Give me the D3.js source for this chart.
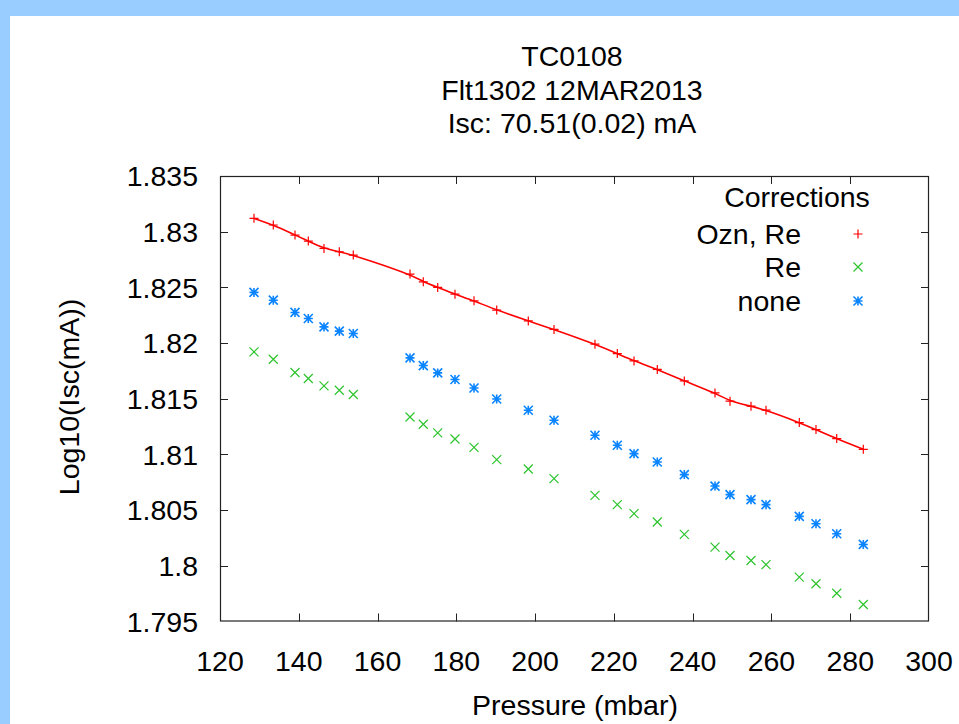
<!DOCTYPE html>
<html><head><meta charset="utf-8">
<script src="https://cdn.jsdelivr.net/npm/d3@7"></script>
<style>
html,body{margin:0;padding:0;background:#fff;}
svg{display:block;}
text{font-family:"Liberation Sans",Arial,sans-serif;fill:#000;}
</style></head>
<body>
<script>
const titleLines = ["TC0108", "Flt1302 12MAR2013", "Isc: 70.51(0.02) mA"];
const xLabel = "Pressure (mbar)";
const yLabel = "Log10(Isc(mA))";
const legendTitle = "Corrections";
const seriesNames = ["Ozn, Re", "Re", "none"];
const xTicks = [120,140,160,180,200,220,240,260,280,300];
const yTicks = [1.795,1.8,1.805,1.81,1.815,1.82,1.825,1.83,1.835];
const pressure = [128.63,133.53,139.04,142.42,146.40,150.29,153.84,168.24,171.61,175.27,179.66,184.49,190.25,198.27,204.80,215.20,220.87,225.11,231.02,237.88,245.67,249.48,254.81,258.62,267.07,271.31,276.57,283.32];
const oznRe = [1.83120,1.83060,1.82970,1.82916,1.82850,1.82820,1.82790,1.82619,1.82550,1.82500,1.82439,1.82379,1.82296,1.82199,1.82122,1.81990,1.81906,1.81840,1.81763,1.81660,1.81552,1.81478,1.81433,1.81397,1.81286,1.81223,1.81142,1.81046];
const reOnly = [1.81921,1.81855,1.81736,1.81682,1.81615,1.81576,1.81538,1.81336,1.81271,1.81193,1.81139,1.81064,1.80953,1.80869,1.80783,1.80633,1.80549,1.80468,1.80393,1.80282,1.80168,1.80093,1.80048,1.80010,1.79898,1.79839,1.79754,1.79653];
const none = [1.82455,1.82385,1.82275,1.82221,1.82145,1.82107,1.82086,1.81867,1.81798,1.81732,1.81673,1.81597,1.81498,1.81397,1.81307,1.81172,1.81082,1.81007,1.80932,1.80819,1.80716,1.80639,1.80594,1.80549,1.80444,1.80378,1.80288,1.80192];
const colors = ["#ff0000", "#2cc42c", "#0a84ff"];

const W = 959, H = 724;
const svg = d3.select("body").append("svg").attr("width", W).attr("height", H);
svg.append("rect").attr("width", W).attr("height", H).attr("fill", "#99ccff");
svg.append("rect").attr("x", 10).attr("y", 16).attr("width", W-10).attr("height", H-16).attr("fill", "#fff");

const L = 220, R = 929, T = 176, B = 621.5;
const x = d3.scaleLinear().domain([120, 300]).range([L, R]);
const y = d3.scaleLinear().domain([1.795, 1.835]).range([B, T]);
const FS = 28.5;

// frame
svg.append("rect").attr("x", L+0.5).attr("y", T+0.5).attr("width", R-L-1).attr("height", B-T-1)
  .attr("fill", "none").attr("stroke", "#222").attr("stroke-width", 1.2);

const tl = 8;
const g = svg.append("g");
xTicks.forEach(t => {
  const px = Math.round(x(t)) + 0.5;
  if (t > 120 && t < 300) {
    g.append("line").attr("x1", px).attr("x2", px).attr("y1", B).attr("y2", B - tl).attr("stroke", "#222");
    g.append("line").attr("x1", px).attr("x2", px).attr("y1", T).attr("y2", T + tl).attr("stroke", "#222");
  }
  g.append("text").attr("x", x(t)).attr("y", 671).attr("text-anchor", "middle").attr("font-size", FS).text(t);
});
yTicks.forEach(t => {
  const py = Math.round(y(t)) + 0.5;
  if (t > 1.7951 && t < 1.8349) {
    g.append("line").attr("x1", L).attr("x2", L + tl).attr("y1", py).attr("y2", py).attr("stroke", "#222");
    g.append("line").attr("x1", R).attr("x2", R - tl).attr("y1", py).attr("y2", py).attr("stroke", "#222");
  }
  g.append("text").attr("x", 198).attr("y", y(t)).attr("dy", "0.36em").attr("text-anchor", "end").attr("font-size", FS)
    .text(d3.format("~g")(+t.toFixed(3)));
});

// titles
const titleY = [66, 100, 133];
titleLines.forEach((s, i) => {
  svg.append("text").attr("x", 572).attr("y", titleY[i]).attr("text-anchor", "middle").attr("font-size", FS).text(s);
});
svg.append("text").attr("x", 575).attr("y", 715).attr("text-anchor", "middle").attr("font-size", FS).text(xLabel);
svg.append("text").attr("transform", "translate(79,397) rotate(-90)").attr("text-anchor", "middle").attr("font-size", FS).text(yLabel);

// markers
const r = 4.5;
const plusPath = `M${-r},0H${r}M0,${-r}V${r}`;
const crossPath = `M${-r},${-r}L${r},${r}M${-r},${r}L${r},${-r}`;
const starPath = plusPath + crossPath;
const paths = [plusPath, crossPath, starPath];
const series = [oznRe, reOnly, none];

// fit line for red series
const redData = pressure.map((p, i) => [p, oznRe[i]]);
svg.append("path").datum(redData)
  .attr("d", d3.line().x(d => x(d[0])).y(d => y(d[1])).curve(d3.curveBasis))
  .attr("fill", "none").attr("stroke", colors[0]).attr("stroke-width", 1.6);

series.forEach((vals, si) => {
  svg.append("g").selectAll("path").data(pressure.map((p, i) => [p, vals[i]])).join("path")
    .attr("transform", d => `translate(${x(d[0])},${y(d[1])})`)
    .attr("d", paths[si]).attr("fill", "none").attr("stroke", colors[si]).attr("stroke-width", si === 2 ? 1.6 : 1.2);
});

// legend
svg.append("text").attr("x", 797).attr("y", 207).attr("text-anchor", "middle").attr("font-size", FS).text(legendTitle);
const legY = [234, 267, 301];
seriesNames.forEach((s, i) => {
  svg.append("text").attr("x", 801).attr("y", legY[i]).attr("dy", "0.36em").attr("text-anchor", "end").attr("font-size", FS).text(s);
  svg.append("path").attr("transform", `translate(858,${legY[i]})`).attr("d", paths[i])
    .attr("fill", "none").attr("stroke", colors[i]).attr("stroke-width", i === 2 ? 1.6 : 1.2);
});
</script>
</body></html>
